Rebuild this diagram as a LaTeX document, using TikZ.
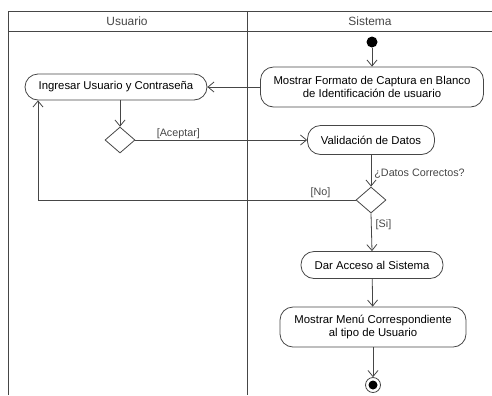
\documentclass[tikz,border=0pt]{standalone}
\usepackage{fontspec}
\setmainfont{Liberation Sans}
\usetikzlibrary{arrows.meta,shapes.geometric}
\definecolor{linea}{RGB}{70,70,70}
\tikzset{
  actividad/.style={draw=linea,rectangle,rounded corners=13bp,align=center,inner sep=0pt},
  decision/.style={draw=linea,diamond,minimum width=30bp,minimum height=26bp,inner sep=0pt},
  flujo/.style={draw=linea,-{Straight Barb[length=6bp,width=10bp]}},
  etiqueta/.style={font=\fontsize{10.8}{12}\selectfont,text=linea,inner sep=1bp}
}
\begin{document}
\begin{tikzpicture}[x=1bp,y=-1bp,line width=0.8bp,font=\fontsize{11.4}{13.5}\selectfont]
	\useasboundingbox (0,0) rectangle (492,395);
	% the swimlanes
	\draw[linea] (8,395) -- (8,11) -- (492,11);
	\draw[linea] (8,31) -- (492,31);
	\draw[linea] (247,11) -- (247,395);
	\node[text=linea,font=\fontsize{12}{14}\selectfont] (usuario) at (127,21) {Usuario};
	\node[text=linea,font=\fontsize{12}{14}\selectfont] (sistema) at (370,21) {Sistema};
	%% the activities
	\node[fill=black,circle,inner sep=0pt,minimum size=11bp] (inicio) at (372,42) {};
	\node[actividad,minimum width=223bp,minimum height=40bp] (mostrar) at (372,87) {Mostrar Formato de Captura en Blanco\\de Identificación de usuario};
	\node[actividad,minimum width=182bp,minimum height=26bp] (ingresar) at (116,87) {Ingresar Usuario y Contraseña};
	\node[decision] (dec1) at (120,140) {};
	\node[actividad,minimum width=127bp,minimum height=29bp] (validacion) at (371,140) {Validación de Datos};
	\node[decision] (dec2) at (371,200) {};
	\node[actividad,minimum width=142bp,minimum height=27bp] (dar) at (372,265) {Dar Acceso al Sistema};
	\node[actividad,minimum width=186bp,minimum height=40bp] (menu) at (373,327) {Mostrar Menú Correspondiente\\al tipo de Usuario};
	\node[draw=linea,circle,inner sep=0pt,minimum size=15bp,
	path picture={\fill (path picture bounding box.center) circle (4.5bp);}] (fin) at (373,385) {};
	\coordinate (retorno) at (38,200);
	%% the flows
	\draw[flujo] (inicio) -- (mostrar);
	\draw[flujo] (mostrar.west) -- (ingresar.east);
	\draw[flujo] (dec1 |- ingresar.south) -- (dec1.north);
	\draw[flujo] (dec1.east) -- node[etiqueta,pos=0.25,above] {[Aceptar]} (validacion.west);
	\draw[flujo] (validacion.south) -- node[etiqueta,pos=0.6,right=2bp] {¿Datos Correctos?} (dec2.north);
	\draw[flujo] (dec2.west) -- node[etiqueta,pos=0.05,anchor=south east,xshift=-8bp,yshift=1bp] {[No]} (retorno) -- (retorno |- ingresar.south);
	\draw[flujo] (dec2.south) -- node[etiqueta,pos=0.3,right=3bp] {[Si]} (dar.north);
	\draw[flujo] (dar) -- (menu);
	\draw[flujo] (menu) -- (fin);
\end{tikzpicture}
\end{document}
